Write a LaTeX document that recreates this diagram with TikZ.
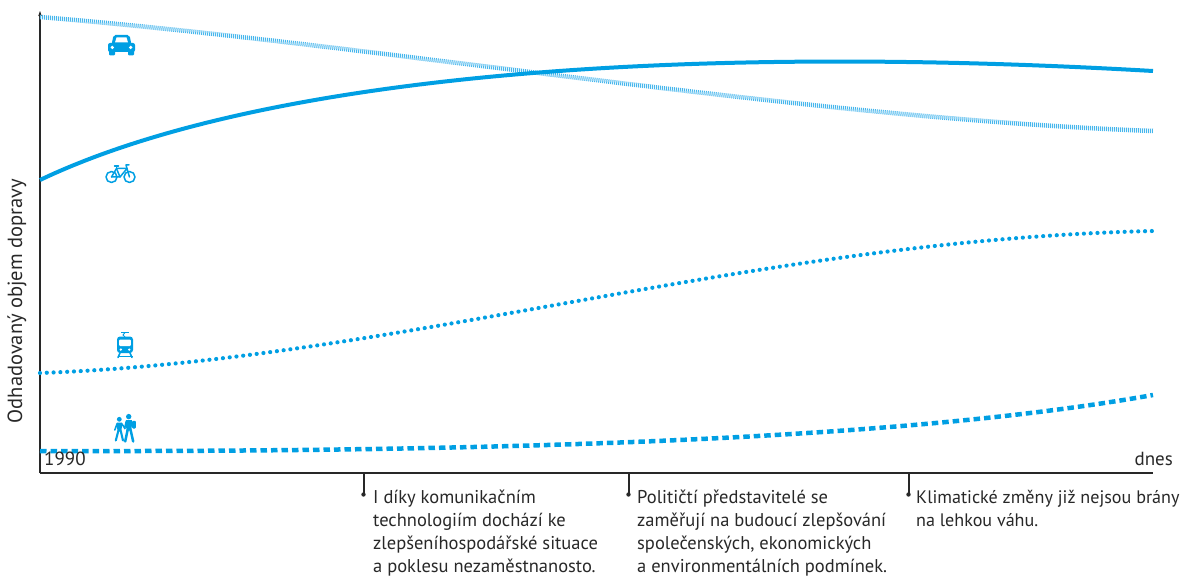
\documentclass[tikz,border=0pt]{standalone}
\usepackage{fontspec}
\setmainfont{PT Sans}
\usetikzlibrary{arrows.meta}
\definecolor{mainblue}{RGB}{0,159,227}
\definecolor{lightblue}{RGB}{70,182,236}
\definecolor{axisgray}{RGB}{40,40,40}
\tikzset{
  axisline/.style={axisgray, line width=1.2pt},
  bikeline/.style={mainblue, line width=4pt},
  carline/.style={lightblue, line width=4.5pt, dash pattern=on 1pt off 1pt},
  trainline/.style={mainblue, line width=4.2pt, line cap=round, dash pattern=on 0pt off 6.8pt},
  walkline/.style={mainblue, line width=4.5pt, dash pattern=on 6.5pt off 4pt},
  ticklinestyle/.style={axisgray, line width=1.1pt},
  notetext/.style={anchor=north west, inner sep=0pt, align=left, text=axisgray, font=\fontsize{18.5}{23}\selectfont},
  axtext/.style={inner sep=0pt, text=axisgray, font=\fontsize{19}{23}\selectfont},
  icon/.style={mainblue},
}
\begin{document}
\begin{tikzpicture}[x=1pt,y=-1pt]
\useasboundingbox (0,0) rectangle (1184,580);
% axes
\coordinate (origin) at (40,473);
\coordinate (ytop) at (40,11);
\coordinate (xend) at (1153,473);
\draw[axisline, -{Stealth[length=5pt,width=3.5pt]}] (origin) -- (ytop);
\draw[axisline] (origin) -- (xend);
% curves
\coordinate (carA) at (40,17);   \coordinate (carB) at (1153,131);
\coordinate (bikeA) at (40,180); \coordinate (bikeB) at (1153,71);
\coordinate (trainA) at (40,373); \coordinate (trainB) at (1153,231);
\coordinate (walkA) at (40,451); \coordinate (walkB) at (1153,395);
\draw[carline] (carA) .. controls (390,46) and (800,118) .. (carB);
\draw[bikeline] (bikeA) .. controls (250,80) and (650,42) .. (bikeB);
\draw[trainline] (trainA) .. controls (400,360) and (750,240) .. (trainB);
\draw[walkline] (walkA) .. controls (500,452) and (900,440) .. (walkB);
% axis labels
\node[axtext, rotate=90, font=\fontsize{20.5}{23}\selectfont] (ylab) at (17,301) {Odhadovaný objem dopravy};
\node[axtext, anchor=base west] (y1990) at (44,465) {1990};
\node[axtext, anchor=base east] (dnes) at (1173,465) {dnes};
% ticks and notes
\foreach \tx/\nm in {364/a, 629/b, 909/c} {
  \coordinate (t\nm top) at (\tx,473);
  \coordinate (t\nm bot) at (\tx,493);
  \draw[ticklinestyle] (t\nm top) -- (t\nm bot);
  \fill[axisgray] (\tx-0.5,494.5) circle (2.2);
}
\node[notetext] (n1) at (373,490) {I díky komunikačním\\technologiím dochází ke\\zlepšeníhospodářské situace\\a poklesu nezaměstnanosto.};
\node[notetext] (n2) at (637,490) {Političtí představitelé se\\zaměřují na budoucí zlepšování\\společenských, ekonomických\\a environmentálních podmínek.};
\node[notetext, font=\fontsize{18.1}{23}\selectfont] (n3) at (916,490) {Klimatické změny již nejsou brány\\na lehkou váhu.};
% car icon
\fill[icon, rounded corners=2pt] (111.5,45) -- (113.5,35) -- (129.5,35) -- (131.5,45) -- cycle;
\fill[icon, rounded corners=2pt] (108,43) rectangle (135,52);
\fill[white] (115,42.5) -- (116.5,37.5) -- (126.5,37.5) -- (128,42.5) -- cycle;
\fill[white] (112.3,47.5) circle (1.8);
\fill[white] (130.7,47.5) circle (1.8);
\fill[icon, rounded corners=1pt] (109,50) rectangle (115,55.5);
\fill[icon, rounded corners=1pt] (128,50) rectangle (134,55.5);
% bike icon
\begin{scope}[icon, line width=1.5pt, line cap=round, line join=round]
\draw (111.5,177) circle (5.5);
\draw (129.5,177) circle (5.5);
\draw (111.5,177) -- (120,177) -- (127,168.5) -- (129.5,177);
\draw (111.5,177) -- (116.5,168.5) -- (127,168.5);
\draw (116.5,168.5) -- (120,177);
\draw (114.5,166) -- (118.5,166);
\draw (116.5,166) -- (116.5,168.5);
\draw (127,168.5) -- (126,165) -- (129,165);
\end{scope}
% train icon
\begin{scope}[icon]
\draw[line width=1pt] (121,332.5) -- (129,332.5);
\draw[line width=1pt] (125,332.5) -- (123,335) -- (125,337);
\fill[rounded corners=3pt] (117,336.5) rectangle (133,353);
\fill[white, rounded corners=1pt] (119.2,339.5) rectangle (130.8,346);
\fill[white] (120.8,349.6) circle (1.3);
\fill[white] (129.2,349.6) circle (1.3);
\draw[line width=1.6pt, line cap=round] (120,353) -- (118,357.5);
\draw[line width=1.6pt, line cap=round] (130,353) -- (132,357.5);
\draw[line width=1.2pt] (117.5,356.5) -- (132.5,356.5);
\end{scope}
% pedestrians icon
\begin{scope}[icon, line cap=round, line join=round]
% child (left)
\fill (119.3,419.3) circle (2.4);
\fill (116.8,422.5) -- (122,422.5) -- (121.6,431.5) -- (117.4,431.5) -- cycle;
\draw[line width=2.1pt] (118.3,431) -- (115.8,440.5);
\draw[line width=2.1pt] (120.8,431) -- (123,440.5);
\draw[line width=1.6pt] (117.2,423.5) -- (114.8,430);
\draw[line width=1.6pt] (121.6,423.5) -- (125,428.5);
% adult (right)
\fill (128.7,416.6) circle (2.7);
\fill (125.8,420.2) -- (132,420.2) -- (131.6,430.5) -- (126.4,430.5) -- cycle;
\draw[line width=2.5pt] (127.6,430) -- (125.2,441.5);
\draw[line width=2.5pt] (130.6,430) -- (133.2,441.5);
\draw[line width=1.7pt] (126.3,421.5) -- (124.6,428.5);
\fill[rounded corners=1pt] (132,420.8) rectangle (135.8,428.5);
\end{scope}
\end{tikzpicture}
\end{document}
